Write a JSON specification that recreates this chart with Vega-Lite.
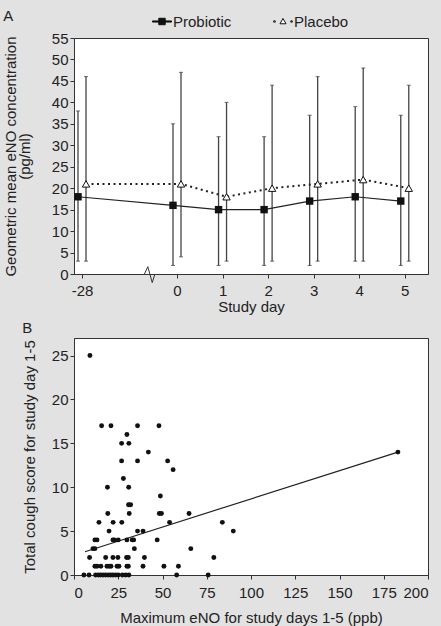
{
  "$schema": "https://vega.github.io/schema/vega-lite/v6.json",
  "background": "#e2e2e2",
  "padding": {"left": 2, "top": 8, "right": 12, "bottom": 0},
  "spacing": 5,
  "config": {
    "font": "Liberation Sans",
    "view": {"fill": "white", "stroke": "#333", "strokeWidth": 1},
    "axis": {"labelFont": "Liberation Sans", "titleFont": "Liberation Sans", "labelFontSize": 15, "titleFontSize": 15, "labelColor": "#222", "titleColor": "#222", "titleFontWeight": "normal", "tickColor": "#333", "domainColor": "#333", "grid": false, "tickSize": 4, "labelPadding": 2},
    "title": {"font": "Liberation Sans", "fontSize": 15, "fontWeight": "normal", "color": "#222", "anchor": "start", "frame": "bounds"},
    "legend": {"labelFont": "Liberation Sans", "labelFontSize": 15, "labelColor": "#222"}
  },
  "datasets": {
    "eno": [
      {"group": "Probiotic", "day": -28, "mean": 18, "lo": 3, "hi": 38},
      {"group": "Probiotic", "day": 0, "mean": 16, "lo": 2, "hi": 35},
      {"group": "Probiotic", "day": 1, "mean": 15, "lo": 2, "hi": 32},
      {"group": "Probiotic", "day": 2, "mean": 15, "lo": 2, "hi": 32},
      {"group": "Probiotic", "day": 3, "mean": 17, "lo": 2, "hi": 37},
      {"group": "Probiotic", "day": 4, "mean": 18, "lo": 3, "hi": 39},
      {"group": "Probiotic", "day": 5, "mean": 17, "lo": 2, "hi": 37},
      {"group": "Placebo", "day": -28, "mean": 21, "lo": 3, "hi": 46},
      {"group": "Placebo", "day": 0, "mean": 21, "lo": 4, "hi": 47},
      {"group": "Placebo", "day": 1, "mean": 18, "lo": 3, "hi": 40},
      {"group": "Placebo", "day": 2, "mean": 20, "lo": 3, "hi": 44},
      {"group": "Placebo", "day": 3, "mean": 21, "lo": 3, "hi": 46},
      {"group": "Placebo", "day": 4, "mean": 22, "lo": 3, "hi": 48},
      {"group": "Placebo", "day": 5, "mean": 20, "lo": 3, "hi": 44}
    ],
    "brk": [
      {"bx": -9.6, "by": 0},
      {"bx": -8.6, "by": 1.7},
      {"bx": -7.3, "by": -2},
      {"bx": -6.5, "by": 0}
    ],
    "scatter": [
      {"eno": 9, "cough": 25},
      {"eno": 15.6, "cough": 17}, {"eno": 20.9, "cough": 17}, {"eno": 35.9, "cough": 17}, {"eno": 48, "cough": 17},
      {"eno": 29.9, "cough": 16},
      {"eno": 26.9, "cough": 15}, {"eno": 31, "cough": 15},
      {"eno": 42, "cough": 14}, {"eno": 183, "cough": 14},
      {"eno": 26.9, "cough": 13}, {"eno": 35.9, "cough": 13}, {"eno": 52.9, "cough": 13},
      {"eno": 56, "cough": 12},
      {"eno": 27.9, "cough": 11},
      {"eno": 18.9, "cough": 10}, {"eno": 30.9, "cough": 10},
      {"eno": 48.8, "cough": 9},
      {"eno": 30.8, "cough": 8}, {"eno": 32, "cough": 8},
      {"eno": 19.1, "cough": 7}, {"eno": 31.2, "cough": 7}, {"eno": 48.2, "cough": 7}, {"eno": 49.4, "cough": 7}, {"eno": 65, "cough": 7},
      {"eno": 14.1, "cough": 6}, {"eno": 22.1, "cough": 6}, {"eno": 27, "cough": 6}, {"eno": 54, "cough": 6}, {"eno": 83.8, "cough": 6},
      {"eno": 19.8, "cough": 5}, {"eno": 35.9, "cough": 5}, {"eno": 39, "cough": 5}, {"eno": 90, "cough": 5},
      {"eno": 11.8, "cough": 4}, {"eno": 13, "cough": 4}, {"eno": 22, "cough": 4}, {"eno": 22.8, "cough": 4}, {"eno": 25, "cough": 4}, {"eno": 29.9, "cough": 4}, {"eno": 32.9, "cough": 4}, {"eno": 33.7, "cough": 4}, {"eno": 47, "cough": 4},
      {"eno": 10.7, "cough": 3}, {"eno": 11.8, "cough": 3}, {"eno": 34.1, "cough": 3}, {"eno": 66, "cough": 3},
      {"eno": 8.8, "cough": 2}, {"eno": 17.9, "cough": 2}, {"eno": 22, "cough": 2}, {"eno": 24.8, "cough": 2}, {"eno": 29.7, "cough": 2}, {"eno": 30.7, "cough": 2}, {"eno": 39.8, "cough": 2}, {"eno": 79, "cough": 2},
      {"eno": 11.8, "cough": 1}, {"eno": 13, "cough": 1}, {"eno": 15.2, "cough": 1}, {"eno": 18.6, "cough": 1}, {"eno": 19.8, "cough": 1}, {"eno": 20.9, "cough": 1}, {"eno": 24.3, "cough": 1}, {"eno": 25.4, "cough": 1}, {"eno": 29.9, "cough": 1}, {"eno": 30.7, "cough": 1}, {"eno": 39, "cough": 1}, {"eno": 50.8, "cough": 1}, {"eno": 59, "cough": 1},
      {"eno": 5.6, "cough": 0}, {"eno": 8.5, "cough": 0}, {"eno": 12.2, "cough": 0}, {"eno": 13.7, "cough": 0}, {"eno": 15, "cough": 0}, {"eno": 16.4, "cough": 0}, {"eno": 17.9, "cough": 0}, {"eno": 19.4, "cough": 0}, {"eno": 20.7, "cough": 0}, {"eno": 22, "cough": 0}, {"eno": 23.5, "cough": 0}, {"eno": 25, "cough": 0}, {"eno": 27.3, "cough": 0}, {"eno": 29.2, "cough": 0}, {"eno": 31, "cough": 0}, {"eno": 58, "cough": 0}, {"eno": 75.8, "cough": 0}
    ],
    "fit": [
      {"eno": 6.2, "cough": 2.65},
      {"eno": 183, "cough": 14}
    ]
  },
  "vconcat": [
    {
      "width": 354,
      "height": 236,
      "title": {"text": "A", "offset": 7},
      "data": {"name": "eno"},
      "encoding": {
        "x": {"field": "day", "type": "quantitative", "scale": {"domain": [-30.36, 0, 5.51], "range": [0, 103, 354]}, "axis": {"values": [-28, 0, 1, 2, 3, 4, 5], "labelExpr": "'' + datum.value", "title": "Study day", "labelPadding": 5, "titlePadding": 1}},
        "y": {"field": "mean", "type": "quantitative", "scale": {"domain": [0, 55]}, "axis": {"values": [0, 5, 10, 15, 20, 25, 30, 35, 40, 45, 50, 55], "title": ["Geometric mean eNO concentration", "(pg/ml)"], "titlePadding": 19, "titleLineHeight": 14}}
      },
      "layer": [
        {"transform": [{"filter": "datum.group === 'Probiotic'"}], "mark": {"type": "rule", "color": "#444", "strokeWidth": 1.3, "xOffset": -4}, "encoding": {"y": {"field": "lo", "type": "quantitative"}, "y2": {"field": "hi"}}},
        {"transform": [{"filter": "datum.group === 'Placebo'"}], "mark": {"type": "rule", "color": "#444", "strokeWidth": 1.3, "xOffset": 4}, "encoding": {"y": {"field": "lo", "type": "quantitative"}, "y2": {"field": "hi"}}},
        {"transform": [{"filter": "datum.group === 'Probiotic'"}], "mark": {"type": "tick", "orient": "horizontal", "size": 4, "thickness": 1, "color": "#333", "xOffset": -4}, "encoding": {"y": {"field": "lo", "type": "quantitative"}}},
        {"transform": [{"filter": "datum.group === 'Probiotic'"}], "mark": {"type": "tick", "orient": "horizontal", "size": 4, "thickness": 1, "color": "#333", "xOffset": -4}, "encoding": {"y": {"field": "hi", "type": "quantitative"}}},
        {"transform": [{"filter": "datum.group === 'Placebo'"}], "mark": {"type": "tick", "orient": "horizontal", "size": 4, "thickness": 1, "color": "#333", "xOffset": 4}, "encoding": {"y": {"field": "lo", "type": "quantitative"}}},
        {"transform": [{"filter": "datum.group === 'Placebo'"}], "mark": {"type": "tick", "orient": "horizontal", "size": 4, "thickness": 1, "color": "#333", "xOffset": 4}, "encoding": {"y": {"field": "hi", "type": "quantitative"}}},
        {"transform": [{"filter": "datum.group === 'Probiotic'"}], "mark": {"type": "line", "color": "#222", "strokeWidth": 1.2, "xOffset": -4}},
        {"transform": [{"filter": "datum.group === 'Placebo'"}], "mark": {"type": "line", "color": "#222", "strokeWidth": 2, "strokeDash": [2, 3.5], "xOffset": 4}},
        {"data": {"values": [{}]}, "mark": {"type": "rect", "fill": "white", "clip": false}, "encoding": {"x": {"datum": -9.1}, "x2": {"datum": -6.8}, "y": {"datum": -0.6}, "y2": {"datum": 30}}},
        {"data": {"name": "brk"}, "mark": {"type": "line", "color": "#333", "strokeWidth": 1, "clip": false}, "encoding": {"x": {"field": "bx", "type": "quantitative"}, "y": {"field": "by", "type": "quantitative"}, "order": {"field": "bx"}}},
        {"transform": [{"filter": "datum.group === 'Probiotic'"}], "mark": {"type": "point", "shape": "square", "size": 55, "filled": true, "color": "#111", "opacity": 1, "xOffset": -4}},
        {"transform": [{"filter": "datum.group === 'Placebo'"}], "mark": {"type": "point", "shape": "triangle-up", "size": 55, "filled": true, "fill": "white", "stroke": "#111", "strokeWidth": 1, "opacity": 1, "xOffset": 4}},
        {
          "transform": [{"filter": "datum.day > 100"}],
          "mark": {"type": "point", "filled": true, "opacity": 1, "strokeWidth": 1},
          "encoding": {
            "shape": {"field": "group", "type": "nominal", "scale": {"domain": ["Probiotic", "Placebo"], "range": ["M-1,-0.06H1V0.06H-1Z M-0.34,-0.34H0.34V0.34H-0.34Z", "M-0.98,-0.07H-0.82V0.07H-0.98Z M0.82,-0.07H0.98V0.07H0.82Z M0,-0.32L0.32,0.24L-0.32,0.24Z"]}, "legend": {"title": null, "orient": "none", "legendX": 78, "legendY": -26.5, "direction": "horizontal", "symbolSize": 361, "symbolStrokeWidth": 1, "labelOffset": 1, "columnPadding": 39, "padding": 0}},
            "fill": {"field": "group", "type": "nominal", "scale": {"domain": ["Probiotic", "Placebo"], "range": ["#111", "white"]}, "legend": {"title": null, "orient": "none", "legendX": 78, "legendY": -26.5, "direction": "horizontal", "symbolSize": 361, "symbolStrokeWidth": 1, "labelOffset": 1, "columnPadding": 39, "padding": 0}},
            "stroke": {"field": "group", "type": "nominal", "scale": {"domain": ["Probiotic", "Placebo"], "range": ["#111", "#111"]}, "legend": {"title": null, "orient": "none", "legendX": 78, "legendY": -26.5, "direction": "horizontal", "symbolSize": 361, "symbolStrokeWidth": 1, "labelOffset": 1, "columnPadding": 39, "padding": 0}}
          }
        }
      ]
    },
    {
      "width": 354,
      "height": 237,
      "title": {"text": "B", "offset": 2},
      "encoding": {
        "x": {"field": "eno", "type": "quantitative", "scale": {"domain": [0, 200]}, "axis": {"values": [0, 25, 50, 75, 100, 125, 150, 175, 200], "title": "Maximum eNO for study days 1-5 (ppb)", "labelPadding": 6, "titlePadding": 10}},
        "y": {"field": "cough", "type": "quantitative", "scale": {"domain": [0, 27]}, "axis": {"values": [0, 5, 10, 15, 20, 25], "title": "Total cough score for study day 1-5", "titlePadding": 14}}
      },
      "layer": [
        {"data": {"name": "fit"}, "mark": {"type": "line", "color": "#222", "strokeWidth": 1.2}},
        {"data": {"name": "scatter"}, "mark": {"type": "circle", "size": 24, "color": "#111", "opacity": 1}},
        {"data": {"values": [{}]}, "mark": {"type": "text", "text": "r", "align": "left", "baseline": "middle", "fontSize": 16, "color": "#222"}, "encoding": {"x": {"datum": 131}, "y": {"datum": 23.6}}},
        {"data": {"values": [{}]}, "mark": {"type": "text", "text": "s", "align": "left", "baseline": "middle", "fontSize": 9, "color": "#222"}, "encoding": {"x": {"datum": 134.8}, "y": {"datum": 22.6}}},
        {"data": {"values": [{}]}, "mark": {"type": "text", "text": "=0.4", "align": "left", "baseline": "middle", "fontSize": 16, "color": "#222"}, "encoding": {"x": {"datum": 137.6}, "y": {"datum": 23.6}}},
        {"data": {"values": [{}]}, "mark": {"type": "text", "text": "P", "align": "left", "baseline": "middle", "fontSize": 16, "fontStyle": "italic", "color": "#222"}, "encoding": {"x": {"datum": 127.1}, "y": {"datum": 21}}},
        {"data": {"values": [{}]}, "mark": {"type": "text", "text": "<0.001", "align": "left", "baseline": "middle", "fontSize": 16, "color": "#222"}, "encoding": {"x": {"datum": 132.6}, "y": {"datum": 21}}}
      ]
    }
  ]
}
